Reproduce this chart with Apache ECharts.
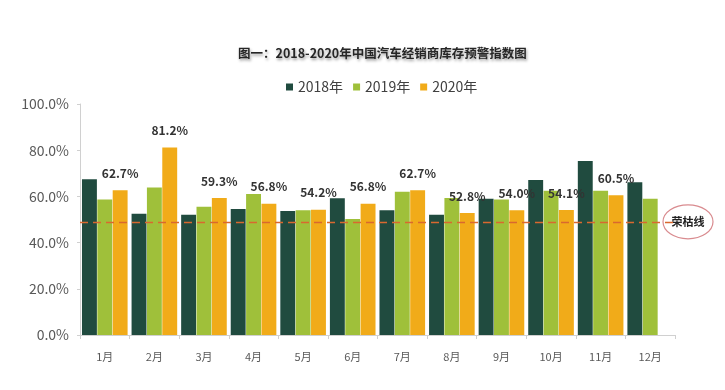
<!DOCTYPE html>
<html>
<head>
<meta charset="utf-8">
<script src="https://cdn.jsdelivr.net/npm/echarts@6/dist/echarts.min.js"></script>
<style>html,body{margin:0;padding:0;background:#fff;}#c{width:725px;height:390px;}</style>
</head>
<body>
<div id="c"></div>
<script>
var months = ['1月','2月','3月','4月','5月','6月','7月','8月','9月','10月','11月','12月'];
var seriesNames = ['2018年','2019年','2020年'];
var v2018 = [67.4, 52.5, 52.1, 54.5, 53.7, 59.2, 54.0, 52.1, 59.0, 67.1, 75.3, 66.1];
var v2019 = [58.7, 63.8, 55.5, 61.0, 54.0, 50.2, 62.0, 59.3, 58.7, 62.5, 62.5, 59.0];
var v2020 = [62.7, 81.2, 59.3, 56.8, 54.2, 56.8, 62.7, 52.8, 54.0, 54.1, 60.5, null];
var yTicks = [0, 20, 40, 60, 80, 100];
var boomBustValue = 49;
var boomBustLabel = '荣枯线';
var titleText = '图一：2018-2020年中国汽车经销商库存预警指数图';

var colors = ['#204b3f', '#9fc03a', '#f1ab19'];
var narrow = "'Liberation Sans Narrow','Noto Sans CJK SC',sans-serif";

var chart = echarts.init(document.getElementById('c'), null, {renderer: 'canvas'});
var option = {
  animation: false,
  backgroundColor: '#ffffff',
  color: colors,
  title: {
    text: titleText,
    left: 233,
    top: 42,
    textStyle: {
      fontFamily: "'Noto Sans CJK SC',sans-serif",
      fontWeight: 'bold',
      fontSize: 12.5,
      color: '#262626',
      textShadowColor: 'rgba(0,0,0,0.4)',
      textShadowBlur: 3,
      textShadowOffsetX: 1,
      textShadowOffsetY: 1.5
    }
  },
  legend: {
    data: seriesNames,
    top: 75,
    left: 281,
    itemWidth: 7,
    itemHeight: 7,
    itemGap: 10,
    icon: 'rect',
    textStyle: {fontFamily: narrow, fontSize: 14, color: '#404040'}
  },
  grid: {left: 80, right: 50, top: 104, bottom: 55, containLabel: false},
  xAxis: {
    type: 'category',
    data: months,
    axisLine: {lineStyle: {color: '#d0d0d0', width: 1}},
    axisTick: {show: true, length: 4, lineStyle: {color: '#d0d0d0'}},
    axisLabel: {fontFamily: narrow, fontSize: 11, color: '#595959', margin: 16}
  },
  yAxis: {
    type: 'value',
    min: yTicks[0],
    max: yTicks[yTicks.length - 1],
    interval: yTicks[1] - yTicks[0],
    axisLine: {show: true, lineStyle: {color: '#d0d0d0', width: 1}},
    axisTick: {show: true, length: 3, lineStyle: {color: '#d0d0d0'}},
    splitLine: {show: false},
    axisLabel: {
      fontFamily: narrow, fontSize: 14, color: '#595959', margin: 11,
      formatter: function (v) { return v.toFixed(1) + '%'; }
    }
  },
  series: [
    {
      name: seriesNames[0], type: 'bar', data: v2018,
      barGap: '3%', barCategoryGap: '8%',
      markLine: {
        silent: true,
        symbol: 'none',
        label: {show: false},
        lineStyle: {color: '#d9682f', type: [8, 5], width: 1.4},
        data: [{yAxis: boomBustValue}]
      }
    },
    {name: seriesNames[1], type: 'bar', data: v2019, barGap: '3%', barCategoryGap: '8%'},
    {
      name: seriesNames[2], type: 'bar', data: v2020, barGap: '3%', barCategoryGap: '8%',
      label: {
        show: true, position: 'top', distance: 11,
        fontFamily: narrow, fontSize: 12, fontWeight: 'bold', color: '#333333',
        formatter: function (p) { return p.value == null ? '' : p.value.toFixed(1) + '%'; }
      }
    }
  ]
};
chart.setOption(option);

var cy = chart.convertToPixel({yAxisIndex: 0}, boomBustValue);
var cx = chart.getWidth() - 37;
chart.setOption({
  graphic: [{
    type: 'group',
    z: 100,
    children: [
      {type: 'ellipse', shape: {cx: cx, cy: cy, rx: 25, ry: 17},
       style: {fill: '#ffffff', stroke: '#d98b8f', lineWidth: 1.2}},
      {type: 'text', x: cx, y: cy,
       style: {text: boomBustLabel, fill: '#222', fontSize: 11, fontWeight: 'bold',
               fontFamily: "'Noto Sans CJK SC',sans-serif", align: 'center', verticalAlign: 'middle'}}
    ]
  }]
});
</script>
</body>
</html>
